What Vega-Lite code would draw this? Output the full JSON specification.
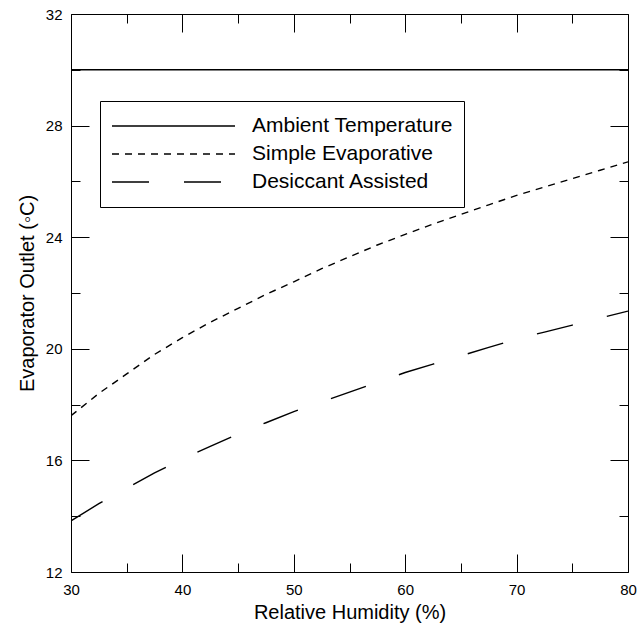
{
  "$schema": "https://vega.github.io/schema/vega-lite/v6.json",
  "width": 557,
  "height": 558,
  "autosize": {"type": "none"},
  "padding": {"left": 71, "top": 14, "right": 10, "bottom": 58},
  "background": "white",
  "config": {
    "view": {"stroke": "black", "strokeWidth": 1},
    "font": "Liberation Sans",
    "axis": {
      "labelFont": "Liberation Sans",
      "titleFont": "Liberation Sans",
      "labelColor": "black",
      "titleColor": "black",
      "tickColor": "black",
      "domain": false,
      "grid": false,
      "titleFontWeight": "normal",
      "labelFontSize": 15,
      "titleFontSize": 20
    }
  },
  "data": {
    "values": [
      {"x": 30, "y": 30, "series": "Ambient Temperature"},
      {"x": 80, "y": 30, "series": "Ambient Temperature"},
      {"x": 30, "y": 17.6, "series": "Simple Evaporative"},
      {"x": 32.5, "y": 18.4, "series": "Simple Evaporative"},
      {"x": 35, "y": 19.1, "series": "Simple Evaporative"},
      {"x": 37.5, "y": 19.8, "series": "Simple Evaporative"},
      {"x": 40, "y": 20.4, "series": "Simple Evaporative"},
      {"x": 42.5, "y": 20.95, "series": "Simple Evaporative"},
      {"x": 45, "y": 21.45, "series": "Simple Evaporative"},
      {"x": 47.5, "y": 21.95, "series": "Simple Evaporative"},
      {"x": 50, "y": 22.4, "series": "Simple Evaporative"},
      {"x": 52.5, "y": 22.87, "series": "Simple Evaporative"},
      {"x": 55, "y": 23.3, "series": "Simple Evaporative"},
      {"x": 57.5, "y": 23.72, "series": "Simple Evaporative"},
      {"x": 60, "y": 24.1, "series": "Simple Evaporative"},
      {"x": 62.5, "y": 24.47, "series": "Simple Evaporative"},
      {"x": 65, "y": 24.82, "series": "Simple Evaporative"},
      {"x": 67.5, "y": 25.16, "series": "Simple Evaporative"},
      {"x": 70, "y": 25.5, "series": "Simple Evaporative"},
      {"x": 72.5, "y": 25.8, "series": "Simple Evaporative"},
      {"x": 75, "y": 26.1, "series": "Simple Evaporative"},
      {"x": 77.5, "y": 26.4, "series": "Simple Evaporative"},
      {"x": 80, "y": 26.7, "series": "Simple Evaporative"},
      {"x": 30, "y": 13.83, "series": "Desiccant Assisted"},
      {"x": 32.5, "y": 14.45, "series": "Desiccant Assisted"},
      {"x": 35, "y": 15.0, "series": "Desiccant Assisted"},
      {"x": 37.5, "y": 15.55, "series": "Desiccant Assisted"},
      {"x": 40, "y": 16.05, "series": "Desiccant Assisted"},
      {"x": 42.5, "y": 16.5, "series": "Desiccant Assisted"},
      {"x": 45, "y": 16.95, "series": "Desiccant Assisted"},
      {"x": 47.5, "y": 17.35, "series": "Desiccant Assisted"},
      {"x": 50, "y": 17.75, "series": "Desiccant Assisted"},
      {"x": 52.5, "y": 18.1, "series": "Desiccant Assisted"},
      {"x": 55, "y": 18.45, "series": "Desiccant Assisted"},
      {"x": 57.5, "y": 18.8, "series": "Desiccant Assisted"},
      {"x": 60, "y": 19.15, "series": "Desiccant Assisted"},
      {"x": 62.5, "y": 19.45, "series": "Desiccant Assisted"},
      {"x": 65, "y": 19.75, "series": "Desiccant Assisted"},
      {"x": 67.5, "y": 20.05, "series": "Desiccant Assisted"},
      {"x": 70, "y": 20.35, "series": "Desiccant Assisted"},
      {"x": 72.5, "y": 20.6, "series": "Desiccant Assisted"},
      {"x": 75, "y": 20.85, "series": "Desiccant Assisted"},
      {"x": 77.5, "y": 21.1, "series": "Desiccant Assisted"},
      {"x": 80, "y": 21.35, "series": "Desiccant Assisted"}
    ]
  },
  "resolve": {"axis": {"x": "independent", "y": "independent"}},
  "layer": [
    {
      "mark": {"type": "line", "stroke": "black", "strokeWidth": 1.4, "clip": true},
      "encoding": {
        "x": {
          "field": "x", "type": "quantitative",
          "scale": {"domain": [30, 80], "nice": false, "zero": false},
          "axis": {"orient": "bottom", "values": [30, 40, 50, 60, 70, 80], "tickSize": -18, "labelPadding": 28, "title": "Relative Humidity (%)", "titlePadding": 5, "labelFlush": false}
        },
        "y": {
          "field": "y", "type": "quantitative",
          "scale": {"domain": [12, 32], "nice": false, "zero": false},
          "axis": {"orient": "left", "values": [12, 16, 20, 24, 28, 32], "tickSize": -18, "labelPadding": 27, "title": "Evaporator Outlet (◦C)", "titlePadding": 8}
        },
        "strokeDash": {
          "field": "series", "type": "nominal",
          "scale": {
            "domain": ["Ambient Temperature", "Simple Evaporative", "Desiccant Assisted"],
            "range": [[1, 0], [7, 6], [37, 35]]
          },
          "legend": {
            "title": null,
            "orient": "none",
            "legendX": 29,
            "legendY": 87,
            "direction": "vertical",
            "symbolType": "stroke",
            "symbolSize": 15129,
            "symbolStrokeWidth": 1.4,
            "symbolStrokeColor": "black",
            "clipHeight": 28,
            "labelFont": "Liberation Sans",
            "labelFontSize": 21,
            "labelColor": "black",
            "labelOffset": 16,
            "labelLimit": 400,
            "padding": 11,
            "strokeColor": "black",
            "fillColor": "white",
            "rowPadding": 0
          }
        }
      }
    },
    {
      "mark": {"type": "point", "opacity": 0},
      "encoding": {
        "x": {"field": "x", "type": "quantitative", "axis": {"orient": "bottom", "values": [35, 45, 55, 65, 75], "tickSize": -9, "labels": false, "title": null}},
        "y": {"field": "y", "type": "quantitative", "axis": {"orient": "left", "values": [14, 18, 22, 26, 30], "tickSize": -9, "labels": false, "title": null}}
      }
    },
    {
      "mark": {"type": "point", "opacity": 0},
      "encoding": {
        "x": {"field": "x", "type": "quantitative", "axis": {"orient": "top", "values": [30, 40, 50, 60, 70, 80], "tickSize": -18, "labels": false, "title": null}},
        "y": {"field": "y", "type": "quantitative", "axis": {"orient": "right", "values": [12, 16, 20, 24, 28, 32], "tickSize": -18, "labels": false, "title": null}}
      }
    },
    {
      "mark": {"type": "point", "opacity": 0},
      "encoding": {
        "x": {"field": "x", "type": "quantitative", "axis": {"orient": "top", "values": [35, 45, 55, 65, 75], "tickSize": -9, "labels": false, "title": null}},
        "y": {"field": "y", "type": "quantitative", "axis": {"orient": "right", "values": [14, 18, 22, 26, 30], "tickSize": -9, "labels": false, "title": null}}
      }
    }
  ]
}
